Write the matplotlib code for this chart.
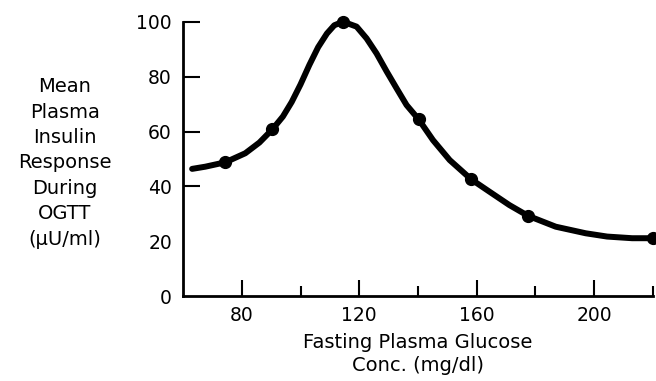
import matplotlib
matplotlib.use("Agg")
import matplotlib.pyplot as plt

# values
curve_x = [63.1, 67.6, 74.4, 81.2, 86.0, 90.4, 94.0, 97.0, 100.0, 103.0, 106.0, 109.0, 111.5,
           114.5, 119.1, 122.5, 125.9, 129.3, 132.7, 136.1, 140.2, 145.1, 150.8, 158.1,
           164.3, 171.1, 177.4, 186.9, 197.1, 204.4, 212.9, 220.0]
curve_y = [46.4, 47.2, 48.8, 52.1, 56.0, 60.8, 65.5, 70.8, 77.2, 84.3, 90.8, 95.8, 98.8,
           100.1, 98.3, 94.0, 88.5, 82.0, 75.8, 69.7, 64.5, 56.9, 49.6, 42.6,
           38.1, 33.2, 29.3, 25.3, 22.9, 21.7, 21.1, 21.1]
point_x = [74.4, 90.4, 114.5, 140.2, 158.1, 177.4, 220.0]
point_y = [48.8, 60.8, 100.1, 64.5, 42.6, 29.3, 21.1]
xticks_major = [80, 120, 160, 200]
xticks_minor = [100, 140, 180, 220]
yticks = [0, 20, 40, 60, 80, 100]
yticks_marked = [40, 60, 80, 100]

plt.rcParams['font.family'] = ['DejaVu Sans']
plt.rcParams['font.size'] = 14

fig = plt.figure(figsize=(6.56, 3.81), dpi=100)
ax = fig.add_axes([0.279, 0.223, 0.9954 - 0.279, 0.9423 - 0.223])

ax.plot(curve_x, curve_y, color='black', linewidth=4.3, solid_capstyle='round',
        solid_joinstyle='round', clip_on=False)
ax.plot(point_x, point_y, 'o', color='black', markersize=8.5, clip_on=False)

ax.set_xlim(60, 220)
ax.set_ylim(0, 100)
for s in ['top', 'right']:
    ax.spines[s].set_visible(False)
for s in ['left', 'bottom']:
    ax.spines[s].set_linewidth(2)

ax.set_xticks(xticks_major)
ax.set_xticks(xticks_minor, minor=True)
ax.tick_params(axis='x', which='major', direction='in', length=11.5, width=1.5,
               pad=7, labelsize=13.5)
ax.tick_params(axis='x', which='minor', direction='in', length=7, width=1.5)

ax.yaxis.remove_overlapping_locs = False
ax.set_yticks(yticks)
ax.set_yticks(yticks_marked, minor=True)
ax.tick_params(axis='y', which='major', length=0, pad=8, labelsize=13.5)
ax.tick_params(axis='y', which='minor', direction='in', length=12, width=1.5)

ax.set_xlabel('Fasting Plasma Glucose\nConc. (mg/dl)', linespacing=1.29, labelpad=6)
fig.text(65 / 656, 1 - 163 / 381,
         'Mean\nPlasma\nInsulin\nResponse\nDuring\nOGTT\n(\u03bcU/ml)',
         ha='center', va='center', linespacing=1.43)

fig.savefig('out.png', dpi=100)
